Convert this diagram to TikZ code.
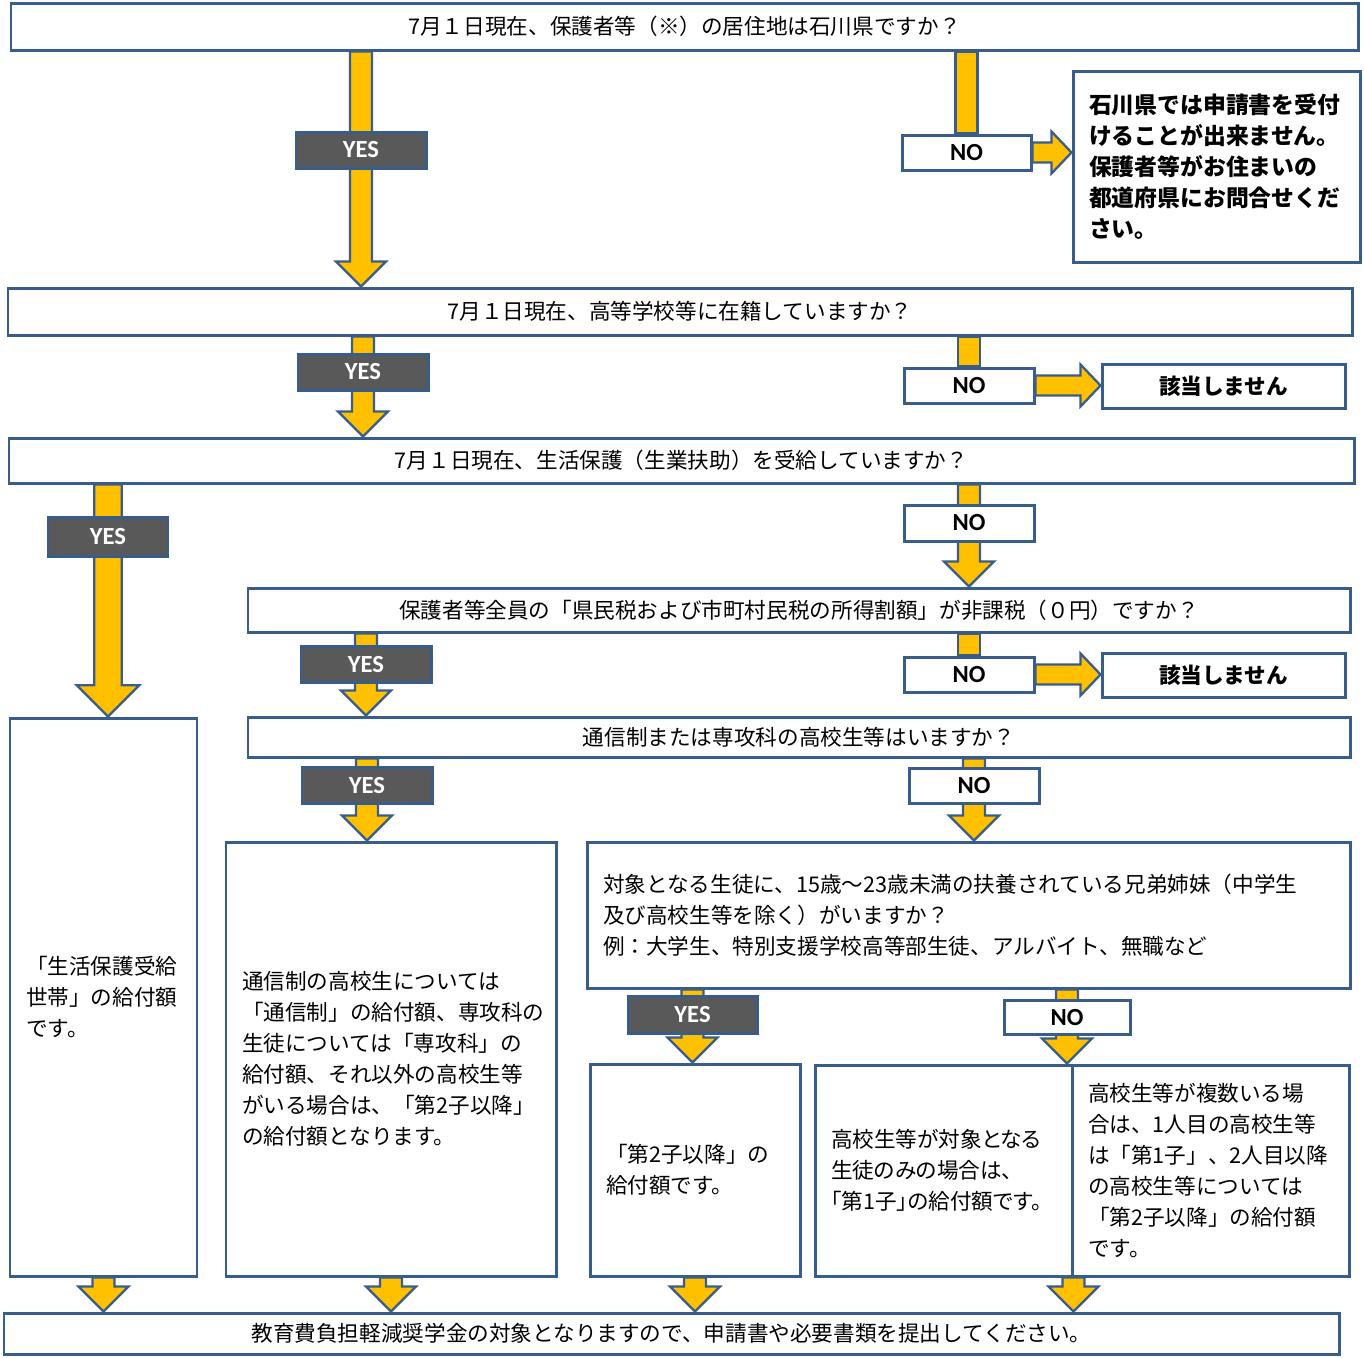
\documentclass[tikz,border=0pt]{standalone}
\usepackage{fontspec}
\newfontfamily\jpfont{Noto Sans CJK JP}
\newfontfamily\jppfont{Noto Sans CJK JP}[RawFeature=+palt]
\newfontfamily\yesnofont{Carlito}
\usepackage{tikz}
\usetikzlibrary{shapes,arrows}
\usetikzlibrary{positioning,backgrounds,calc}

\definecolor{frame}{HTML}{385D8A}
\definecolor{gold}{HTML}{FFC000}
\definecolor{labelgray}{HTML}{595959}

% block arrows (pixel units of the picture)
\newcommand{\fatdown}[3][1]{%
  \path #2 coordinate (fa) #3 coordinate (fb);
  \draw[fatArrow] ($(fa)+#1*(-11,0)$) -- ($(fb)+#1*(-11,-25)$) -- ($(fb)+#1*(-25,-25)$) -- (fb)
    -- ($(fb)+#1*(25,-25)$) -- ($(fb)+#1*(11,-25)$) -- ($(fa)+#1*(11,0)$) -- cycle;}
\newcommand{\fatright}[2]{%
  \path #1 coordinate (fa) #2 coordinate (fb);
  \draw[fatArrow] ($(fa)+(0,-10)$) -- ($(fb)+(-20,-10)$) -- ($(fb)+(-20,-21)$) -- (fb)
    -- ($(fb)+(-20,21)$) -- ($(fb)+(-20,10)$) -- ($(fa)+(0,10)$) -- cycle;}
\newcommand{\fatstem}[2]{%
  \path #1 coordinate (fa) #2 coordinate (fb);
  \draw[fatArrow] ($(fa)+(-11,0)$) rectangle ($(fb)+(11,0)$);}

% node from its left/top and right/bottom pixel edges
\tikzset{boxAt/.style n args={4}{at={({(#1+#3)/2},{(#2+#4)/2})}, minimum width={(#3-#1)*0.02cm}, minimum height={(#4-#2)*0.02cm}}}

\begin{document}
\begin{tikzpicture}[x=0.02cm,y=-0.02cm]

\tikzstyle{question} = [draw=frame, line width=1.7pt, fill=white, rectangle, inner sep=0pt, font={\jpfont\fontsize{12.3}{17.6}\selectfont}]
\tikzstyle{answer} = [question, align=left]
\tikzstyle{stopBox} = [question, font={\jpfont\bfseries\fontsize{12.3}{17.6}\selectfont}]
\tikzstyle{yesLabel} = [draw=frame, line width=1.7pt, fill=labelgray, text=white, rectangle, inner sep=0pt, font={\yesnofont\bfseries\fontsize{14}{16}\selectfont}]
\tikzstyle{noLabel} = [yesLabel, fill=white, text=black]
\tikzstyle{fatArrow} = [draw=frame, fill=gold, line width=1.3pt, line join=miter]

\useasboundingbox (0,0) rectangle (1364,1357);

\node[question, name=q1, boxAt={11}{3}{1358}{50}] {7月１日現在、保護者等（※）の居住地は石川県ですか？};
\node[yesLabel, name=yes1, boxAt={296}{132}{426}{168}] {YES};
\node[noLabel, name=no1, boxAt={902}{135}{1031}{170}] {NO};
\node[answer, name=r1, boxAt={1073}{71}{1360}{262}, text width=5.1cm, font={\jpfont\bfseries\fontsize{13}{17.6}\selectfont}] {石川県では申請書を受付\\けることが出来ません。\\保護者等がお住まいの\\都道府県にお問合せくだ\\さい。};

\node[question, name=q2, boxAt={8}{288}{1352}{335}] {7月１日現在、高等学校等に在籍していますか？};
\node[yesLabel, name=yes2, boxAt={298}{354}{428}{390}] {YES};
\node[noLabel, name=no2, boxAt={904}{368}{1034}{403}] {NO};
\node[stopBox, name=r2, boxAt={1102}{364}{1345}{408}] {該当しません};

\node[question, name=q3, boxAt={9}{438}{1354}{483}] {7月１日現在、生活保護（生業扶助）を受給していますか？};
\node[yesLabel, name=yes3, boxAt={48}{517}{168}{556}] {YES};
\node[noLabel, name=no3, boxAt={904}{505}{1034}{541}] {NO};

\node[question, name=q4, boxAt={248}{588}{1350}{632}] {保護者等全員の「県民税および市町村民税の所得割額」が非課税（０円）ですか？};
\node[yesLabel, name=yes4, boxAt={301}{646}{431}{682}] {YES};
\node[noLabel, name=no4, boxAt={904}{657}{1034}{692}] {NO};
\node[stopBox, name=r4, boxAt={1102}{653}{1345}{697}] {該当しません};

\node[question, name=q5, boxAt={248}{717}{1350}{757}] {通信制または専攻科の高校生等はいますか？};
\node[yesLabel, name=yes5, boxAt={302}{767}{432}{803}] {YES};
\node[noLabel, name=no5, boxAt={909}{768}{1039}{803}] {NO};

\node[answer, name=l, boxAt={10}{718}{197}{1276}, text width=3.1cm] {「生活保護受給\\世帯」の給付額\\です。};
\node[answer, name=m, boxAt={226}{842}{556}{1276}, text width=5.96cm] {通信制の高校生については\\「通信制」の給付額、専攻科の\\生徒については「専攻科」の\\給付額、それ以外の高校生等\\がいる場合は、「第2子以降」\\の給付額となります。};
\node[answer, name=q6, boxAt={587}{842}{1350}{988}, text width=14.62cm] {対象となる生徒に、15歳～23歳未満の扶養されている兄弟姉妹（中学生\\及び高校生等を除く）がいますか？\\例：大学生、特別支援学校高等部生徒、アルバイト、無職など};
\node[yesLabel, name=yes6, boxAt={628}{996}{757}{1033}] {YES};
\node[noLabel, name=no6, boxAt={1004}{1000}{1130}{1034}] {NO};

\node[answer, name=a, boxAt={590}{1064}{800}{1276}, text width=3.56cm] {「第2子以降」の\\給付額です。};
\node[answer, name=b, boxAt={815}{1065}{1072}{1276}, text width=4.5cm, font={\jppfont\fontsize{12.3}{17.6}\selectfont}] {高校生等が対象となる\\生徒のみの場合は、\\「第1子」の給付額です。};
\node[answer, name=c, boxAt={1072}{1065}{1349}{1276}, text width=4.9cm] {高校生等が複数いる場\\合は、1人目の高校生等\\は「第1子」、2人目以降\\の高校生等については\\「第2子以降」の給付額\\です。};

\node[question, name=fin, boxAt={4}{1313}{1339}{1354}] {教育費負担軽減奨学金の対象となりますので、申請書や必要書類を提出してください。};

\begin{pgfonlayer}{background}
\fatdown{(q1.south -| yes1)}{(q2.north -| yes1)}
\fatstem{(q1.south -| no1)}{(no1.north)}
\fatright{(no1.east)}{(no1.east -| r1.west)}
\fatdown{(q2.south -| yes2)}{(q3.north -| yes2)}
\fatstem{(q2.south -| no2)}{(no2.north)}
\fatright{(no2.east)}{(no2.east -| r2.west)}
\fatdown[1.25]{(q3.south -| yes3)}{(l.north -| yes3)}
\fatdown{(q3.south -| no3)}{(q4.north -| no3)}
\fatdown{(q4.south -| yes4)}{(q5.north -| yes4)}
\fatstem{(q4.south -| no4)}{(no4.north)}
\fatright{(no4.east)}{(no4.east -| r4.west)}
\fatdown{(q5.south -| yes5)}{(m.north -| yes5)}
\fatdown{(q5.south -| no5)}{(q6.north -| no5)}
\fatdown{(q6.south -| yes6)}{(a.north -| yes6)}
\fatdown{(q6.south -| no6)}{(c.north -| no6)}
% into the last box
\fatdown{(l.south)}{(l.south |- fin.north)}
\fatdown{(m.south)}{(m.south |- fin.north)}
\fatdown{(a.south)}{(a.south |- fin.north)}
\fatdown{(b.south east)}{(b.south east |- fin.north)}
\end{pgfonlayer}
\end{tikzpicture}
\end{document}
